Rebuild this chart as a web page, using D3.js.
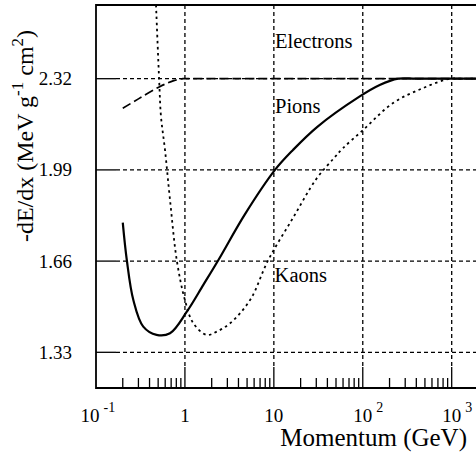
<!DOCTYPE html>
<html>
<head>
<meta charset="utf-8">
<script src="https://cdn.jsdelivr.net/npm/d3@7"></script>
<style>
  body { margin: 0; background: #fff; }
  svg { display: block; }
</style>
</head>
<body>
<script>
// Data
const xTicks = [0.1, 1, 10, 100, 1000];
const xTickBase = ["10", "1", "10", "10", "10"];
const xTickExp = ["-1", "", "", "2", "3"];
const yTicks = [1.33, 1.66, 1.99, 2.32];

const electronP = [0.2, 0.3, 0.52, 0.75, 0.95, 1.3, 1900];
const electronV = [2.213, 2.247, 2.291, 2.313, 2.32, 2.32, 2.32];

const pionP = [0.2, 0.222, 0.263, 0.34, 0.48, 0.68, 1.05, 1.61, 2.38, 4.74, 10.3, 16.4, 30.6, 90.7, 155, 250, 400, 1900];
const pionV = [1.799, 1.664, 1.519, 1.423, 1.393, 1.399, 1.477, 1.574, 1.664, 1.83, 1.99, 2.062, 2.145, 2.254, 2.297, 2.32, 2.32, 2.32];

const kaonP = [0.473, 0.515, 0.538, 0.597, 0.68, 0.809, 1.0, 1.243, 1.758, 2.28, 3.22, 5.4, 8.66, 16.4, 30, 47.5, 60, 100.6, 219, 476, 956, 1300, 1900];
const kaonV = [2.587, 2.303, 2.183, 2.062, 1.881, 1.664, 1.519, 1.435, 1.393, 1.405, 1.435, 1.519, 1.664, 1.816, 1.957, 2.033, 2.069, 2.134, 2.232, 2.286, 2.32, 2.32, 2.32];

const labels = ["Electrons", "Pions", "Kaons"];
const labelP = [10.3, 10.3, 10.2];
const labelV = [2.43, 2.195, 1.583];

//Variables
const width = 476;
const height = 454;
const plotLeft = 96, plotTop = 5, plotBottom = 388, plotRight = 476;
const serif = "'Liberation Serif', 'Times New Roman', 'DejaVu Serif', serif";

const svg = d3.select("body")
    .append("svg")
    .attr("width", width)
    .attr("height", height)
    .attr("font-family", serif);

//Scales
const xScale = d3.scaleLog()
    .domain([0.1, 1000])
    .range([96, 451.7]);

const yScale = d3.scaleLinear()
    .domain([1.33, 2.32])
    .range([352.3, 78.7]);

//Clip
svg.append("clipPath")
    .attr("id", "plot")
    .append("rect")
    .attr("x", plotLeft).attr("y", plotTop)
    .attr("width", plotRight - plotLeft).attr("height", plotBottom - plotTop);

//Grid
const grid = svg.append("g")
    .attr("stroke", "#000")
    .attr("stroke-width", 1.3)
    .attr("stroke-dasharray", "4,3");

grid.selectAll(".hgrid")
    .data(yTicks)
    .join("line")
    .attr("x1", plotLeft + 20).attr("x2", plotRight)
    .attr("y1", d => yScale(d)).attr("y2", d => yScale(d));

grid.selectAll(".vgrid")
    .data(xTicks.slice(1))
    .join("line")
    .attr("x1", d => xScale(d)).attr("x2", d => xScale(d))
    .attr("y1", plotTop).attr("y2", plotBottom - 21);

//Ticks
const minor = [];
xTicks.slice(0, 4).forEach(t => {
    for (let k = 2; k <= 9; k++) minor.push(t * k);
});

const ticks = svg.append("g").attr("stroke", "#000").attr("stroke-width", 1.3);

ticks.selectAll(".minor")
    .data(minor)
    .join("line")
    .attr("x1", d => xScale(d)).attr("x2", d => xScale(d))
    .attr("y1", plotBottom).attr("y2", plotBottom - 10);

ticks.selectAll(".major")
    .data(xTicks.slice(1))
    .join("line")
    .attr("x1", d => xScale(d)).attr("x2", d => xScale(d))
    .attr("y1", plotBottom).attr("y2", plotBottom - 21);

ticks.selectAll(".ytick")
    .data(yTicks)
    .join("line")
    .attr("x1", plotLeft).attr("x2", plotLeft + 20)
    .attr("y1", d => yScale(d)).attr("y2", d => yScale(d));

//Curves
const line = d3.line()
    .x(d => xScale(d[0]))
    .y(d => yScale(d[1]))
    .curve(d3.curveCatmullRom.alpha(0.5));

const curves = svg.append("g").attr("clip-path", "url(#plot)").attr("fill", "none").attr("stroke", "#000");

curves.append("path")
    .attr("d", line(electronP.map((p, i) => [p, electronV[i]])))
    .attr("stroke-width", 1.7)
    .attr("stroke-dasharray", "9,4");

curves.append("path")
    .attr("d", line(kaonP.map((p, i) => [p, kaonV[i]])))
    .attr("stroke-width", 1.8)
    .attr("stroke-dasharray", "2.5,3.5");

curves.append("path")
    .attr("d", line(pionP.map((p, i) => [p, pionV[i]])))
    .attr("stroke-width", 2.2);

//Frame
svg.append("path")
    .attr("d", `M${plotRight},${plotTop}H${plotLeft}V${plotBottom}H${plotRight}`)
    .attr("fill", "none")
    .attr("stroke", "#000")
    .attr("stroke-width", 1.8);

//Tick labels
svg.selectAll(".ylab")
    .data(yTicks)
    .join("text")
    .attr("x", 72)
    .attr("y", d => yScale(d) + 6.5)
    .attr("text-anchor", "end")
    .attr("font-size", 19)
    .text(d => d.toFixed(2));

const xl = svg.selectAll(".xlab")
    .data(xTicks)
    .join("text")
    .attr("x", (d, i) => xScale(d) - (xTickBase[i] === "10" ? 9.5 : 4.75) - (xTickExp[i] === "-1" ? 6 : 0))
    .attr("y", 422)
    .attr("font-size", 19);
xl.append("tspan").text((d, i) => xTickBase[i]);
xl.append("tspan")
    .attr("dx", 4)
    .attr("dy", -10)
    .attr("font-size", 14)
    .text((d, i) => xTickExp[i]);

//Curve labels
svg.selectAll(".clab")
    .data(labels)
    .join("text")
    .attr("x", (d, i) => xScale(labelP[i]))
    .attr("y", (d, i) => yScale(labelV[i]))
    .attr("font-size", 20.5)
    .text(d => d);

//Axis titles
svg.append("text")
    .attr("x", 467)
    .attr("y", 446)
    .attr("text-anchor", "end")
    .attr("font-size", 25)
    .text("Momentum (GeV)");

const yt = svg.append("text")
    .attr("transform", "translate(33,136) rotate(-90)")
    .attr("text-anchor", "middle")
    .attr("font-size", 24);
yt.append("tspan").text("-dE/dx (MeV g");
yt.append("tspan").attr("dy", -10).attr("font-size", 17).text("-1");
yt.append("tspan").attr("dy", 10).text(" cm");
yt.append("tspan").attr("dy", -10).attr("font-size", 17).text("2");
yt.append("tspan").attr("dy", 10).text(")");
</script>
</body>
</html>
